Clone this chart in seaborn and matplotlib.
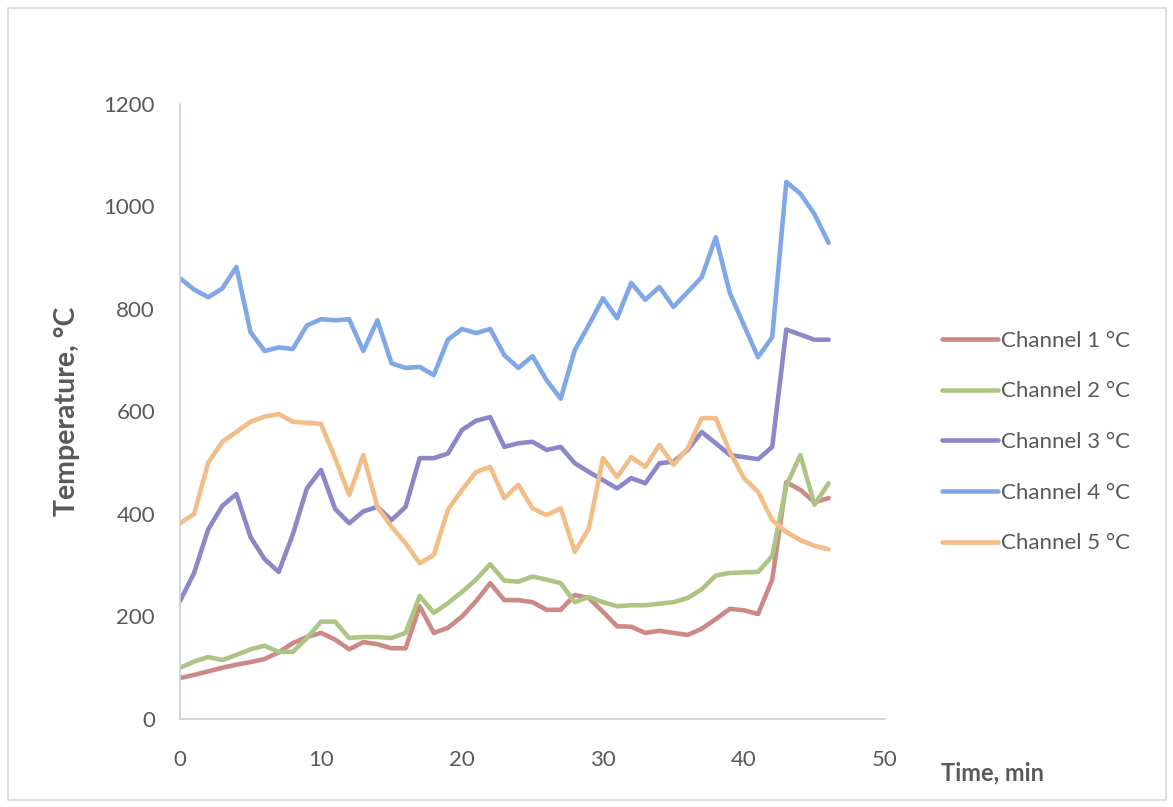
import matplotlib
matplotlib.use("Agg")
import matplotlib.pyplot as plt
from matplotlib.patches import Rectangle
import numpy as np
import pandas as pd
import seaborn as sns

# Time axis (minutes) and the five thermocouple channels (°C)
time_min = list(range(47))

channel_1 = [80, 86, 93, 100, 106, 111, 117, 130, 148, 160, 168, 155, 136, 150, 146, 138,
             138, 220, 168, 178, 200, 230, 265, 232, 232, 228, 213, 213, 242, 236, 209, 181,
             180, 168, 172, 168, 164, 176, 195, 215, 212, 205, 272, 462, 447, 423, 431]
channel_2 = [100, 112, 121, 115, 125, 136, 143, 131, 131, 158, 190, 190, 158, 160, 160, 158,
             168, 240, 207, 226, 248, 272, 302, 270, 268, 278, 272, 265, 228, 238, 228, 220,
             222, 222, 225, 228, 236, 253, 280, 285, 286, 287, 318, 455, 515, 418, 460]
channel_3 = [230, 285, 370, 416, 439, 355, 312, 287, 360, 450, 486, 410, 382, 405, 414, 388,
             414, 509, 509, 518, 564, 582, 589, 531, 538, 541, 525, 531, 499, 482, 466, 450,
             470, 460, 499, 502, 525, 560, 538, 515, 511, 507, 531, 760, 750, 740, 740]
channel_4 = [860, 838, 823, 840, 882, 755, 718, 725, 722, 768, 780, 778, 780, 718, 778, 694,
             685, 687, 671, 740, 761, 753, 761, 710, 685, 708, 661, 625, 720, 769, 821, 782,
             851, 818, 843, 804, 833, 862, 940, 831, 768, 706, 745, 1048, 1025, 985, 929]
channel_5 = [382, 400, 500, 541, 560, 580, 590, 595, 580, 578, 576, 509, 437, 515, 414, 375,
             343, 304, 320, 408, 447, 482, 492, 431, 457, 411, 398, 411, 326, 372, 509, 472,
             511, 492, 535, 496, 528, 587, 587, 521, 470, 443, 388, 365, 349, 338, 331]

series_names = ["Channel 1 °C", "Channel 2 °C", "Channel 3 °C", "Channel 4 °C", "Channel 5 °C"]
series_values = [channel_1, channel_2, channel_3, channel_4, channel_5]
series_colors = ["#cc8986", "#adc584", "#8c87c9", "#80a8e8", "#f3bd88"]

x_ticks = [0, 10, 20, 30, 40, 50]
y_ticks = [0, 200, 400, 600, 800, 1000, 1200]

frames = [pd.DataFrame({"Time": time_min, "Temperature": vals, "Channel": name})
          for name, vals in zip(series_names, series_values)]
df = pd.concat(frames, ignore_index=True)

sns.set_style("white")
plt.rcParams["font.family"] = ["Lato", "DejaVu Sans"]

text_color = "#595959"
axis_color = "#cfd0e0"

fig = plt.figure(figsize=(11.73, 8.07), dpi=100)
ax = fig.add_axes([180 / 1173, 1 - 719 / 807, 705 / 1173, 615 / 807])

sns.lineplot(data=df, x="Time", y="Temperature", hue="Channel",
             hue_order=series_names, palette=series_colors,
             linewidth=3.3, ax=ax, legend=True)

ax.set_xlim(0, 50)
ax.set_ylim(0, 1200)
ax.set_xticks(x_ticks)
ax.set_yticks(y_ticks)
ax.tick_params(axis="both", length=0, labelsize=16, labelcolor=text_color)
ax.tick_params(axis="y", pad=18)
ax.tick_params(axis="x", pad=22)

for side in ["top", "right"]:
    ax.spines[side].set_visible(False)
for side in ["left", "bottom"]:
    ax.spines[side].set_color(axis_color)
    ax.spines[side].set_linewidth(1.3)

ax.set_ylabel("Temperature, °C", fontsize=20.5, fontweight="bold", color=text_color)
ax.yaxis.set_label_coords(-0.142, 0.5)
ax.set_xlabel("Time, min", fontsize=17, fontweight="bold", color=text_color)
ax.xaxis.label.set_va("center")
ax.xaxis.set_label_coords(1.153, -0.088)

handles, labels = ax.get_legend_handles_labels()
leg = ax.legend(handles, labels, loc="center left",
                bbox_to_anchor=(942 / 1173, 1 - 442 / 807),
                bbox_transform=fig.transFigure, frameon=False,
                fontsize=16, handlelength=2.5, handletextpad=0.15,
                labelspacing=1.38, borderpad=0, borderaxespad=0)
for text in leg.get_texts():
    text.set_color(text_color)
for line in leg.get_lines():
    line.set_linewidth(3.3)

# Chart-area border
fig.patches.append(Rectangle((8 / 1173, 1 - 800 / 807), 1158 / 1173, 792 / 807,
                             transform=fig.transFigure, fill=False,
                             edgecolor="#d9d9d9", linewidth=1.2))

fig.savefig("out.png", dpi=100)
